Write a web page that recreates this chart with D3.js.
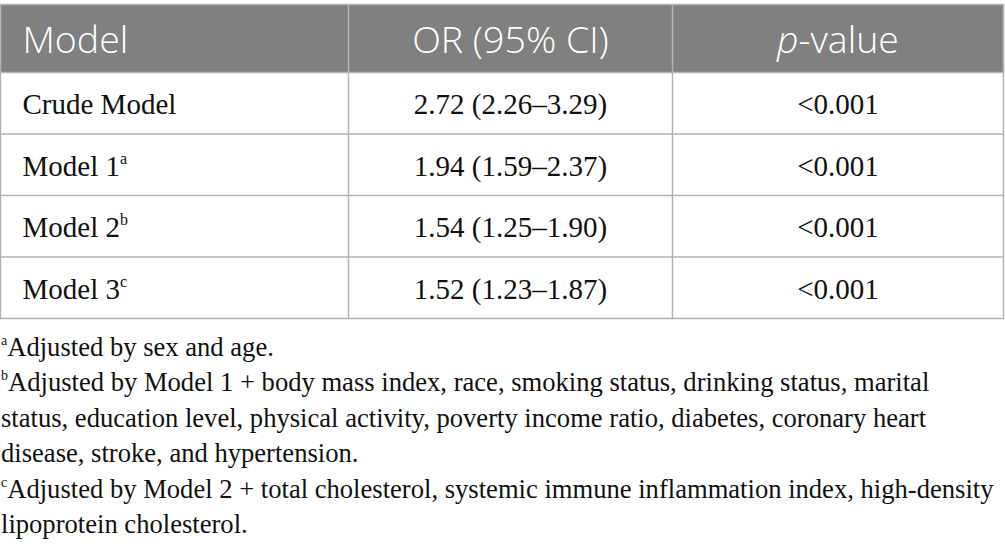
<!DOCTYPE html>
<html>
<head>
<meta charset="utf-8">
<script src="https://cdn.jsdelivr.net/npm/d3@7"></script>
<style>
  html, body { margin: 0; padding: 0; background: #fff; }
  svg { display: block; }
</style>
</head>
<body>
<svg id="chart" width="1005" height="558"></svg>
<script>
// ---- data ----
const headers = ["Model", "OR (95% CI)", "p-value"];
const models = ["Crude Model", "Model 1", "Model 2", "Model 3"];
const modelNotes = ["", "a", "b", "c"];
const orValues = ["2.72 (2.26–3.29)", "1.94 (1.59–2.37)", "1.54 (1.25–1.90)", "1.52 (1.23–1.87)"];
const pValues = ["<0.001", "<0.001", "<0.001", "<0.001"];
const footnoteMarks = ["a", "b", "", "", "c", ""];
const footnoteLines = [
  "Adjusted by sex and age.",
  "Adjusted by Model 1 + body mass index, race, smoking status, drinking status, marital",
  "status, education level, physical activity, poverty income ratio, diabetes, coronary heart",
  "disease, stroke, and hypertension.",
  "Adjusted by Model 2 + total cholesterol, systemic immune inflammation index, high-density",
  "lipoprotein cholesterol."
];

// ---- layout ----
const svg = d3.select("#chart");
const tableLeft = 0.5, tableRight = 1003.5;
const headerTop = 4.5, headerBottom = 72.5, tableBottom = 318.5;
const colEdges = [tableLeft, 348.5, 672.5, tableRight];

const sans = "'Open Sans', 'Noto Sans', sans-serif";
const serif = "'Liberation Serif', 'DejaVu Serif', serif";
const lineColor = "#b3b3b3";

const colWidth = (i) => colEdges[i + 1] - colEdges[i];
const y = d3.scaleBand().domain(models).range([headerBottom, tableBottom]).padding(0);

// header background
svg.append("rect")
  .attr("x", tableLeft).attr("y", headerTop)
  .attr("width", tableRight - tableLeft).attr("height", headerBottom - headerTop)
  .attr("fill", "#808080");

// row lines
svg.selectAll("line.row")
  .data(models.slice(1))
  .join("line")
  .attr("class", "row")
  .attr("x1", tableLeft).attr("x2", tableRight)
  .attr("y1", d => y(d)).attr("y2", d => y(d))
  .attr("stroke", lineColor).attr("stroke-width", 1.5);

// column lines
svg.selectAll("line.col")
  .data(colEdges.slice(1, 3))
  .join("line")
  .attr("class", "col")
  .attr("x1", d => d).attr("x2", d => d)
  .attr("y1", headerTop).attr("y2", tableBottom)
  .attr("stroke", lineColor).attr("stroke-width", 1.5);

// outer border
svg.append("rect")
  .attr("x", tableLeft).attr("y", headerTop)
  .attr("width", tableRight - tableLeft).attr("height", tableBottom - headerTop)
  .attr("fill", "none").attr("stroke", lineColor).attr("stroke-width", 1.5);
svg.append("line")
  .attr("x1", tableLeft).attr("x2", tableRight)
  .attr("y1", headerBottom).attr("y2", headerBottom)
  .attr("stroke", lineColor).attr("stroke-width", 1.5);

// header text
const headG = svg.append("g").attr("fill", "#fff")
  .attr("font-family", sans).attr("font-size", 37.5).attr("font-weight", 350);
headers.forEach((h, i) => {
  const t = headG.append("text")
    .attr("y", 53)
    .attr("x", i === 0 ? colEdges[0] + 22 : colEdges[i] + colWidth(i) / 2)
    .attr("text-anchor", i === 0 ? "start" : "middle");
  if (h.startsWith("p-")) {
    t.append("tspan").attr("font-style", "italic").text("p");
    t.append("tspan").text(h.slice(1));
  } else {
    t.text(h);
  }
});

// body rows
const bodyG = svg.append("g").attr("fill", "#111")
  .attr("font-family", serif).attr("font-size", 29);
const rows = bodyG.selectAll("g.r").data(models).join("g").attr("class", "r");
rows.each(function (m, i) {
  const g = d3.select(this);
  const base = y(m) + y.bandwidth() / 2 + 11;
  const t1 = g.append("text").attr("x", colEdges[0] + 22).attr("y", base);
  t1.append("tspan").text(m);
  if (modelNotes[i]) {
    t1.append("tspan").attr("font-size", 16).attr("dy", -12).text(modelNotes[i]);
  }
  g.append("text").attr("x", colEdges[1] + colWidth(1) / 2).attr("y", base)
    .attr("text-anchor", "middle").text(orValues[i]);
  g.append("text").attr("x", colEdges[2] + colWidth(2) / 2).attr("y", base)
    .attr("text-anchor", "middle").text(pValues[i]);
});

// footnotes
const fy = d3.scaleLinear().domain([0, footnoteLines.length - 1]).range([356, 533]);
const footG = svg.append("g").attr("fill", "#111")
  .attr("font-family", serif).attr("font-size", 26.6);
footnoteLines.forEach((line, i) => {
  const t = footG.append("text").attr("x", 1).attr("y", fy(i));
  if (footnoteMarks[i]) {
    t.append("tspan").attr("font-size", 14).attr("dy", -11).text(footnoteMarks[i]);
    t.append("tspan").attr("dy", 11).text(line);
  } else {
    t.text(line);
  }
});
</script>
</body>
</html>
